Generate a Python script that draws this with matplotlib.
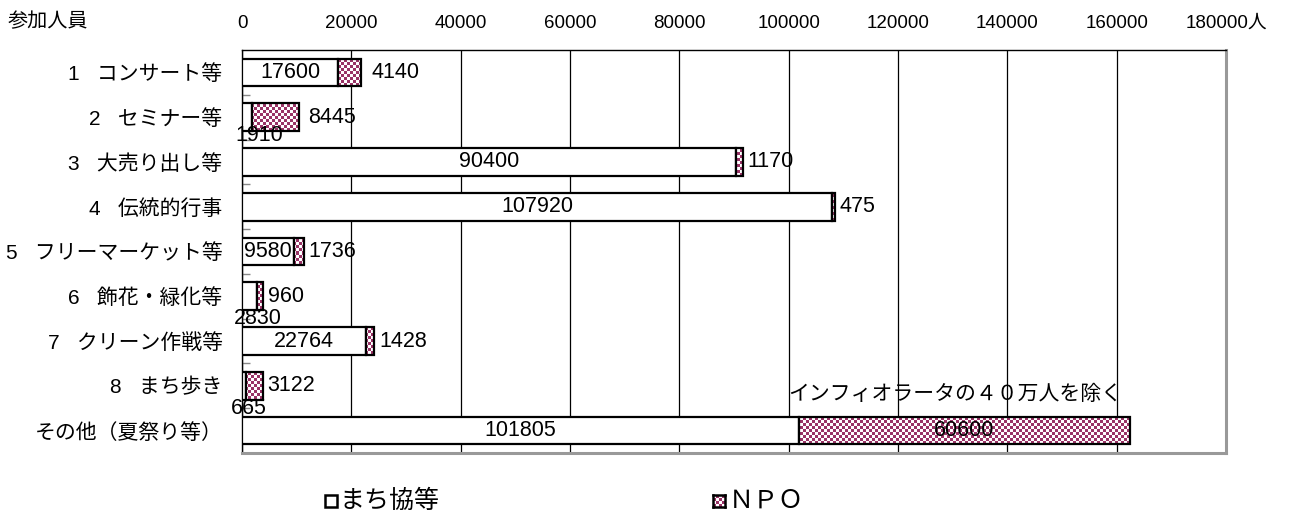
import numpy as np
import matplotlib
matplotlib.use("Agg")
import matplotlib.pyplot as plt
from matplotlib.colors import ListedColormap
from matplotlib.patches import Rectangle, PathPatch
from matplotlib.path import Path

plt.rcParams['font.family'] = ['Liberation Sans', 'Noto Sans CJK JP']

categories = ['1   コンサート等', '2   セミナー等', '3   大売り出し等', '4   伝統的行事',
              '5   フリーマーケット等', '6   飾花・緑化等', '7   クリーン作戦等',
              '8   まち歩き', 'その他（夏祭り等）']
machi = [17600, 1910, 90400, 107920, 9580, 2830, 22764, 665, 101805]
npo = [4140, 8445, 1170, 475, 1736, 960, 1428, 3122, 60600]
xticks = [0, 20000, 40000, 60000, 80000, 100000, 120000, 140000, 160000, 180000]
xticklabels = ['0', '20000', '40000', '60000', '80000', '100000', '120000',
               '140000', '160000', '180000人']
series_names = ['まち協等', 'ＮＰＯ']
note = 'インフィオラータの４０万人を除く'

PLUM = '#993366'
W, H = 1289, 514
fig = plt.figure(figsize=(W / 100, H / 100), dpi=100)
ax = fig.add_axes([242 / W, 1 - 453 / H, (1226 - 242) / W, (453 - 50) / H])

y = np.arange(len(categories))
bh = 0.62
XMAX = 180000

# plain segments
ax.barh(y, machi, height=bh, color='white', edgecolor='black', linewidth=1.6, zorder=3)

# checkered fill for the NPO segments
left = np.array(machi)
paths = []
for yi, l, w in zip(y, left, npo):
    paths.append(Path([(l, yi - bh / 2), (l + w, yi - bh / 2), (l + w, yi + bh / 2),
                       (l, yi + bh / 2), (l, yi - bh / 2)],
                      [Path.MOVETO, Path.LINETO, Path.LINETO, Path.LINETO, Path.CLOSEPOLY]))
clip = PathPatch(Path.make_compound_path(*paths), transform=ax.transData,
                 facecolor='none', edgecolor='none')
ax.add_patch(clip)
ncol, nrow = 984 // 3, 403 // 3
checker = (np.add.outer(np.arange(nrow), np.arange(ncol)) % 2)
cmap = ListedColormap(['white', PLUM])
im = ax.imshow(checker, cmap=cmap, extent=(0, XMAX, len(y) - 0.5, -0.5),
               aspect='auto', interpolation='nearest', zorder=3.5)
im.set_clip_path(clip)
ax.barh(y, npo, left=left, height=bh, facecolor='none', edgecolor='black',
        linewidth=1.6, zorder=4)

ax.set_xlim(0, XMAX)
ax.set_ylim(len(y) - 0.5, -0.5)

# grid and frame
ax.set_xticks(xticks)
ax.xaxis.grid(True, color='black', linewidth=0.9, zorder=0)
ax.set_axisbelow(True)
ax.xaxis.tick_top()
ax.set_xticklabels(xticklabels, fontsize=13.5)
ax.tick_params(axis='x', length=0, pad=13)
for s in ['left', 'top']:
    ax.spines[s].set_color('black')
    ax.spines[s].set_linewidth(1.0)
for s in ['right', 'bottom']:
    ax.spines[s].set_color('#999999')
    ax.spines[s].set_linewidth(2.2)

ax.set_yticks(y)
ax.set_yticklabels(categories, fontsize=15)
ax.tick_params(axis='y', which='major', length=0, pad=14)
ax.set_yticks(np.arange(len(y)) + 0.5, minor=True)
ax.tick_params(axis='y', which='minor', direction='in', length=6, color='#888888', width=1)

fig.text(8 / W, 1 - 22 / H, '参加人員', fontsize=14.5, va='center', ha='left')

# value labels
lab_kw = dict(fontsize=15.5, va='center', zorder=6)
inside_offsets = {1: (8.6, -13), 5: (5.8, -16), 7: (3.6, -16)}
outside_gap = {0: 8, 1: 7}
for i in y:
    m, n = machi[i], npo[i]
    if i in inside_offsets:
        dx, dy = inside_offsets[i]
        ax.annotate(str(m), (m / 2, i), xytext=(dx, dy), textcoords='offset points',
                    ha='center', **lab_kw)
    else:
        ax.text(m / 2, i, str(m), ha='center', **lab_kw)
    if i == len(y) - 1:
        ax.text(m + n / 2, i, str(n), ha='center', **lab_kw)
    else:
        ax.annotate(str(n), (m + n, i), xytext=(outside_gap.get(i, 3.5), 0),
                    textcoords='offset points', ha='left', **lab_kw)

ax.text(100000, 7.2, note, fontsize=15, va='center', ha='left', zorder=6)

# legend
fig.patches.append(Rectangle((325 / W, 1 - 507 / H), 12 / W, 12 / H, transform=fig.transFigure,
                             facecolor='white', edgecolor='black', linewidth=1.8))
fig.text(339 / W, 1 - 501 / H, series_names[0], fontsize=18, va='center', ha='left')
kax = fig.add_axes([713 / W, 1 - 507 / H, 12 / W, 12 / H])
kax.imshow(np.add.outer(np.arange(4), np.arange(4)) % 2, cmap=cmap,
           interpolation='nearest', aspect='auto')
kax.set_xticks([]); kax.set_yticks([])
for s in kax.spines.values():
    s.set_linewidth(1.8)
fig.text(729 / W, 1 - 501 / H, series_names[1], fontsize=18, va='center', ha='left')

fig.savefig('out.png', dpi=100)
